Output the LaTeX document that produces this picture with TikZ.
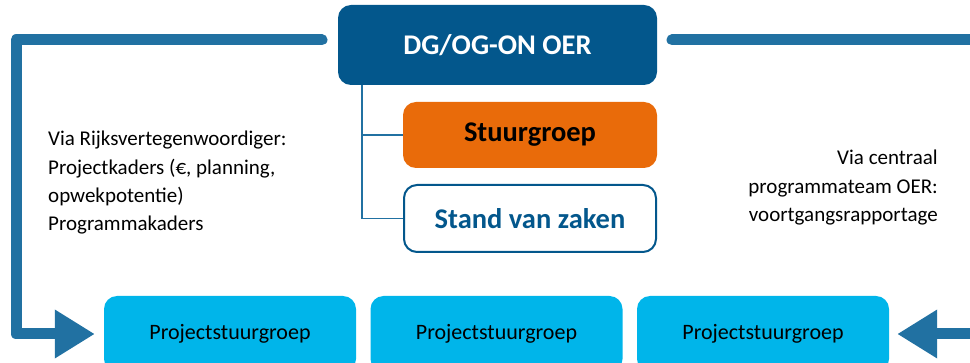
\documentclass[tikz,border=0pt]{standalone}
\usepackage{fontspec}
\setmainfont{Carlito}
\usetikzlibrary{arrows.meta,calc}
\definecolor{dgblue}{HTML}{03578C}
\definecolor{lineblue}{HTML}{2171A2}
\definecolor{sgorange}{HTML}{E96B0A}
\definecolor{psblue}{HTML}{00B5EA}
\tikzset{
  box/.style={rounded corners=13pt, inner sep=0pt, align=center},
  dgbox/.style={box, fill=dgblue, text=white, font=\bfseries\fontsize{28.5}{32}\selectfont, minimum width=319pt, minimum height=80pt},
  sgbox/.style={box, fill=sgorange, text=black, font=\bfseries\fontsize{28.5}{32}\selectfont, minimum width=254pt, minimum height=66pt},
  szbox/.style={box, draw=dgblue, line width=2pt, fill=white, text=dgblue, font=\bfseries\fontsize{28.5}{32}\selectfont, minimum width=252pt, minimum height=67pt},
  psbox/.style={box, fill=psblue, text=black, font=\fontsize{22}{25}\selectfont, minimum width=252pt, minimum height=76pt},
  fb/.style={draw=lineblue, line width=11pt, line cap=round, line join=round, -{Triangle[length=40pt,width=46pt]}},
  thin/.style={draw=lineblue, line width=1.6pt},
  lbl/.style={font=\fontsize{21}{28.3}\selectfont, inner sep=0pt, text=black}
}
\begin{document}
\begin{tikzpicture}[x=1pt,y=-1pt]
\useasboundingbox (0,0) rectangle (970,363);
\clip (0,0) rectangle (970,363);
\node[dgbox] (DG) at (497.5,45) {DG/OG-ON OER};
\node[sgbox] (SG) at (530,135) {Stuurgroep};
\node[szbox] (SZ) at (530,218.5) {Stand van zaken};
\node[psbox] (P1) at (230,334) {Projectstuurgroep};
\node[psbox] (P2) at (496.5,334) {Projectstuurgroep};
\node[psbox] (P3) at (763,334) {Projectstuurgroep};
\coordinate (tb) at ($(DG.south west)+(24,0)$);
\draw[thin] (tb) |- (SG.west);
\draw[thin] (tb) |- (SZ.west);
\coordinate (ls) at (322,40);
\coordinate (lc) at (16,40);
\coordinate (rs) at (672,40);
\coordinate (rc) at (1000,40);
\draw[fb, shorten >=9pt] (ls) -- (lc) |- (P1.west);
\draw[fb, shorten >=8pt] (rs) -- (rc) |- (P3.east);
\node[lbl, align=left, anchor=north west] (lt) at (48,131) {Via Rijksvertegenwoordiger:\\Projectkaders (€, planning,\\opwekpotentie)\\Programmakaders};
\node[lbl, align=right, anchor=north east] (rt) at (938,150) {Via centraal\\programmateam OER:\\voortgangsrapportage};
\end{tikzpicture}
\end{document}
